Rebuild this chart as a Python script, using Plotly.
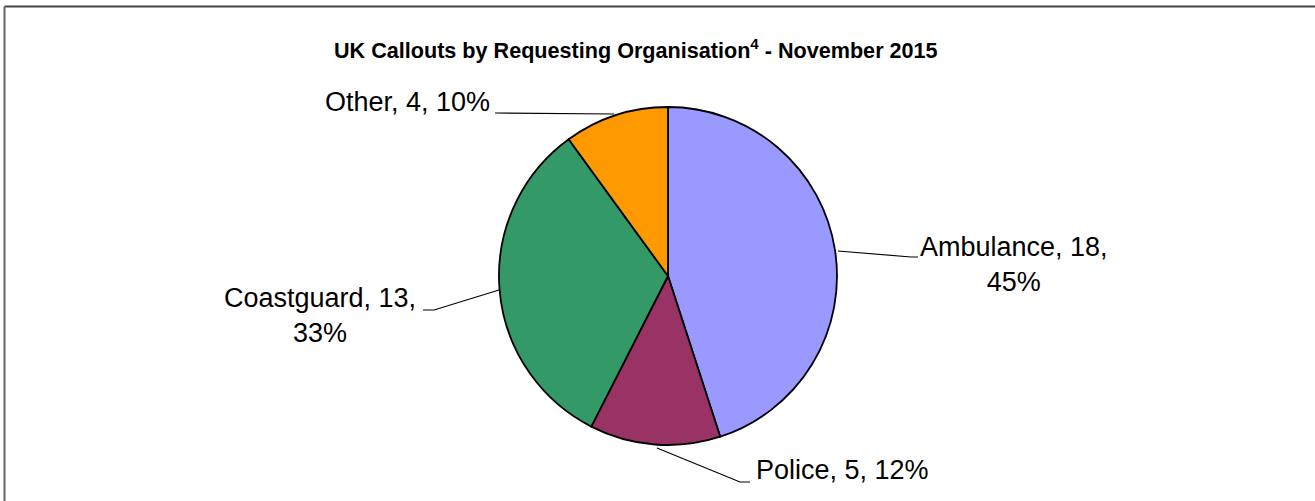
import plotly.graph_objects as go

W, H = 1315, 501

categories = ["Ambulance", "Police", "Coastguard", "Other"]
values = [18, 5, 13, 4]
percent_labels = ["45%", "12%", "33%", "10%"]
colors = ["#9999FF", "#993366", "#339966", "#FF9900"]
title_text = "<b>UK Callouts by Requesting Organisation<sup>4</sup> - November 2015</b>"

def px(x):
    return x / W

def py(y):
    return 1 - y / H

# pie geometry (pixels)
cx, cy, r = 668, 276, 169

fig = go.Figure()
fig.add_trace(go.Pie(
    labels=categories,
    values=values,
    sort=False,
    direction="clockwise",
    rotation=0,
    marker=dict(colors=colors, line=dict(color="#000000", width=1.8)),
    textinfo="none",
    hoverinfo="label+value+percent",
    showlegend=False,
    domain=dict(x=[px(cx - r), px(cx + r)], y=[py(cy + r), py(cy - r)]),
))

font = dict(family="Liberation Sans, Arial, sans-serif", size=27, color="#000000")

lab = {c: f"{c}, {v}, {p}" for c, v, p in zip(categories, values, percent_labels)}
label_specs = [
    (f"{categories[0]}, {values[0]},<br>{percent_labels[0]}", 1014, 264, "center", "center"),
    (lab["Police"], 754, 470, "left", "left"),
    (f"{categories[2]}, {values[2]},<br>{percent_labels[2]}", 320, 315, "center", "center"),
    (lab["Other"], 492, 102, "right", "right"),
]
annotations = []
for text, x, y, xa, al in label_specs:
    annotations.append(dict(
        text=text, x=px(x), y=py(y), xref="paper", yref="paper",
        xanchor=xa, yanchor="middle", align=al, showarrow=False,
        font=font,
    ))

annotations.append(dict(
    text=title_text, x=px(636), y=py(49), xref="paper", yref="paper",
    xanchor="center", yanchor="middle", showarrow=False,
    font=dict(family="Liberation Sans, Arial, sans-serif", size=21.6, color="#000000"),
))

# leader lines (pixels)
leaders = [
    [(838, 251), (911, 257), (918, 257)],
    [(657, 448), (740, 482), (750, 482)],
    [(499, 290), (434, 310), (423, 310)],
    [(614, 114), (495, 113)],
]
shapes = []
for pts in leaders:
    path = "M " + " L ".join(f"{px(x)},{py(y)}" for x, y in pts)
    shapes.append(dict(type="path", path=path, xref="paper", yref="paper",
                       line=dict(color="#000000", width=1.2)))

# chart frame (left and top edges visible)
shapes.append(dict(type="line", xref="paper", yref="paper",
                   x0=px(4.5), y0=py(6.5), x1=px(1320), y1=py(6.5),
                   line=dict(color="#444444", width=2)))
shapes.append(dict(type="line", xref="paper", yref="paper",
                   x0=px(4.5), y0=py(6.5), x1=px(4.5), y1=py(510),
                   line=dict(color="#666666", width=2)))

fig.update_layout(
    width=W, height=H,
    margin=dict(l=0, r=0, t=0, b=0),
    paper_bgcolor="#FFFFFF",
    plot_bgcolor="#FFFFFF",
    annotations=annotations,
    shapes=shapes,
)

fig.write_html("out.html", config={"displayModeBar": False},
               post_script="document.body.style.margin='0px';")
